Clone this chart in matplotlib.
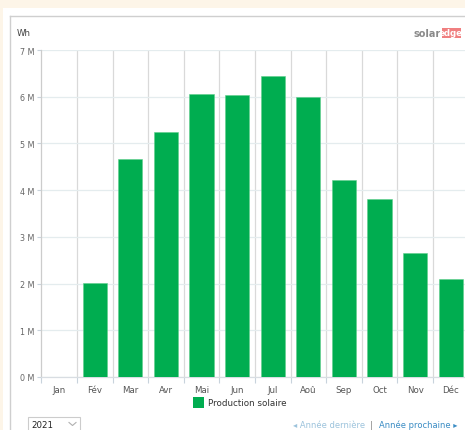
import matplotlib.pyplot as plt
from matplotlib.patches import Rectangle
from matplotlib.lines import Line2D
import numpy as np

# données (Wh, en millions)
mois = ['Jan', 'Fév', 'Mar', 'Avr', 'Mai', 'Jun', 'Jul', 'Aoû', 'Sep', 'Oct', 'Nov', 'Déc']
production = [0, 2.01, 4.67, 5.24, 6.05, 6.03, 6.45, 6.00, 4.22, 3.81, 2.65, 2.09]
yticks = [0, 1, 2, 3, 4, 5, 6, 7]

W, H = 465, 431
fig = plt.figure(figsize=(W / 100, H / 100), dpi=100)
fig.patch.set_facecolor('#fdf5e8')

def px(x, y):
    # pixels -> coordonnées figure
    return x / W, 1 - y / H

# panneau blanc (derrière les axes)
fig.patches.append(Rectangle(px(3, H), (W - 3) / W, (H - 9) / H, transform=fig.transFigure,
                             facecolor='white', edgecolor='none', zorder=-10))
fig.lines.append(Line2D([9.5 / W, 9.5 / W], [0, 1 - 17 / H], transform=fig.transFigure,
                        color='#cfcfcf', lw=1, zorder=-5))
fig.lines.append(Line2D([9.5 / W, 1], [1 - 17 / H, 1 - 17 / H], transform=fig.transFigure,
                        color='#cfcfcf', lw=1, zorder=-5))

ax = fig.add_axes([41.3 / W, 53 / H, 427.2 / W, 327 / H])
ax.set_zorder(1)
ax.set_facecolor('white')

x = np.arange(len(mois))
ax.bar(x, production, width=0.68, color='#00ad50', edgecolor='#5fcf8c', linewidth=0.4, zorder=3)

ax.set_xlim(-0.5, len(mois) - 0.5)
ax.set_ylim(0, 7)

# grilles
ax.set_yticks(yticks)
ax.set_yticklabels([f'{v} M' for v in yticks])
ax.grid(axis='y', color='#e4ecee', lw=0.9, zorder=0)
bornes = np.arange(len(mois) + 1) - 0.5
for b in bornes[1:]:
    ax.axvline(b, color='#d9d9d9', lw=0.9, zorder=1)

ax.set_xticks(bornes)
ax.set_xticklabels([])
ax.set_xticks(x, minor=True)
ax.set_xticklabels(mois, minor=True)
ax.tick_params(axis='x', which='major', length=4, color='#c8d3dc', width=0.8)
ax.tick_params(axis='x', which='minor', length=0, pad=6, labelsize=6.2, labelcolor='#555555')
ax.tick_params(axis='y', length=3, color='#c8d3dc', width=0.8, pad=2, labelsize=5.8, labelcolor='#666666')

for s in ['top', 'right']:
    ax.spines[s].set_visible(False)
ax.spines['left'].set_color('#cccccc')
ax.spines['bottom'].set_color('#d8dde2')
ax.spines['left'].set_linewidth(0.9)
ax.spines['bottom'].set_linewidth(0.9)

# textes
fig.text(*px(17, 34), 'Wh', fontsize=6.2, color='#444444', va='center')

fig.text(*px(441, 34), 'solar', fontsize=7, color='#8a8a8a', fontweight='bold', va='center', ha='right')
fig.patches.append(Rectangle(px(441.5, 39), 19 / W, 10 / H, transform=fig.transFigure,
                             facecolor='#f07f80', edgecolor='none'))
fig.text(*px(451, 34), 'edge', fontsize=6.2, color='white', va='center', ha='center', fontweight='bold')

# légende
fig.patches.append(Rectangle(px(193, 409), 11 / W, 11 / H, transform=fig.transFigure,
                             facecolor='#00ad50', edgecolor='none'))
fig.text(*px(208, 404), 'Production solaire', fontsize=6.3, color='#333333', va='center')

# pied de page
fig.patches.append(Rectangle(px(28, 434), 52 / W, 16 / H, transform=fig.transFigure,
                             facecolor='white', edgecolor='#cccccc', lw=0.8))
fig.text(*px(31, 426), '2021', fontsize=6.2, color='#222222', va='center')
fig.lines.append(Line2D([69 / W, 72.5 / W, 76 / W], [1 - 423.5 / H, 1 - 426.5 / H, 1 - 423.5 / H],
                        transform=fig.transFigure, color='#b0b0b0', lw=0.8))

fig.text(*px(293, 425.5), '◂ Année dernière', fontsize=6.0, color='#9cc3dc', va='center')
fig.text(*px(370, 425.5), '|', fontsize=6.0, color='#888888', va='center')
fig.text(*px(379, 425.5), 'Année prochaine ▸', fontsize=6.0, color='#3a8cc4', va='center')

plt.savefig('out.png', dpi=100, facecolor=fig.get_facecolor())
